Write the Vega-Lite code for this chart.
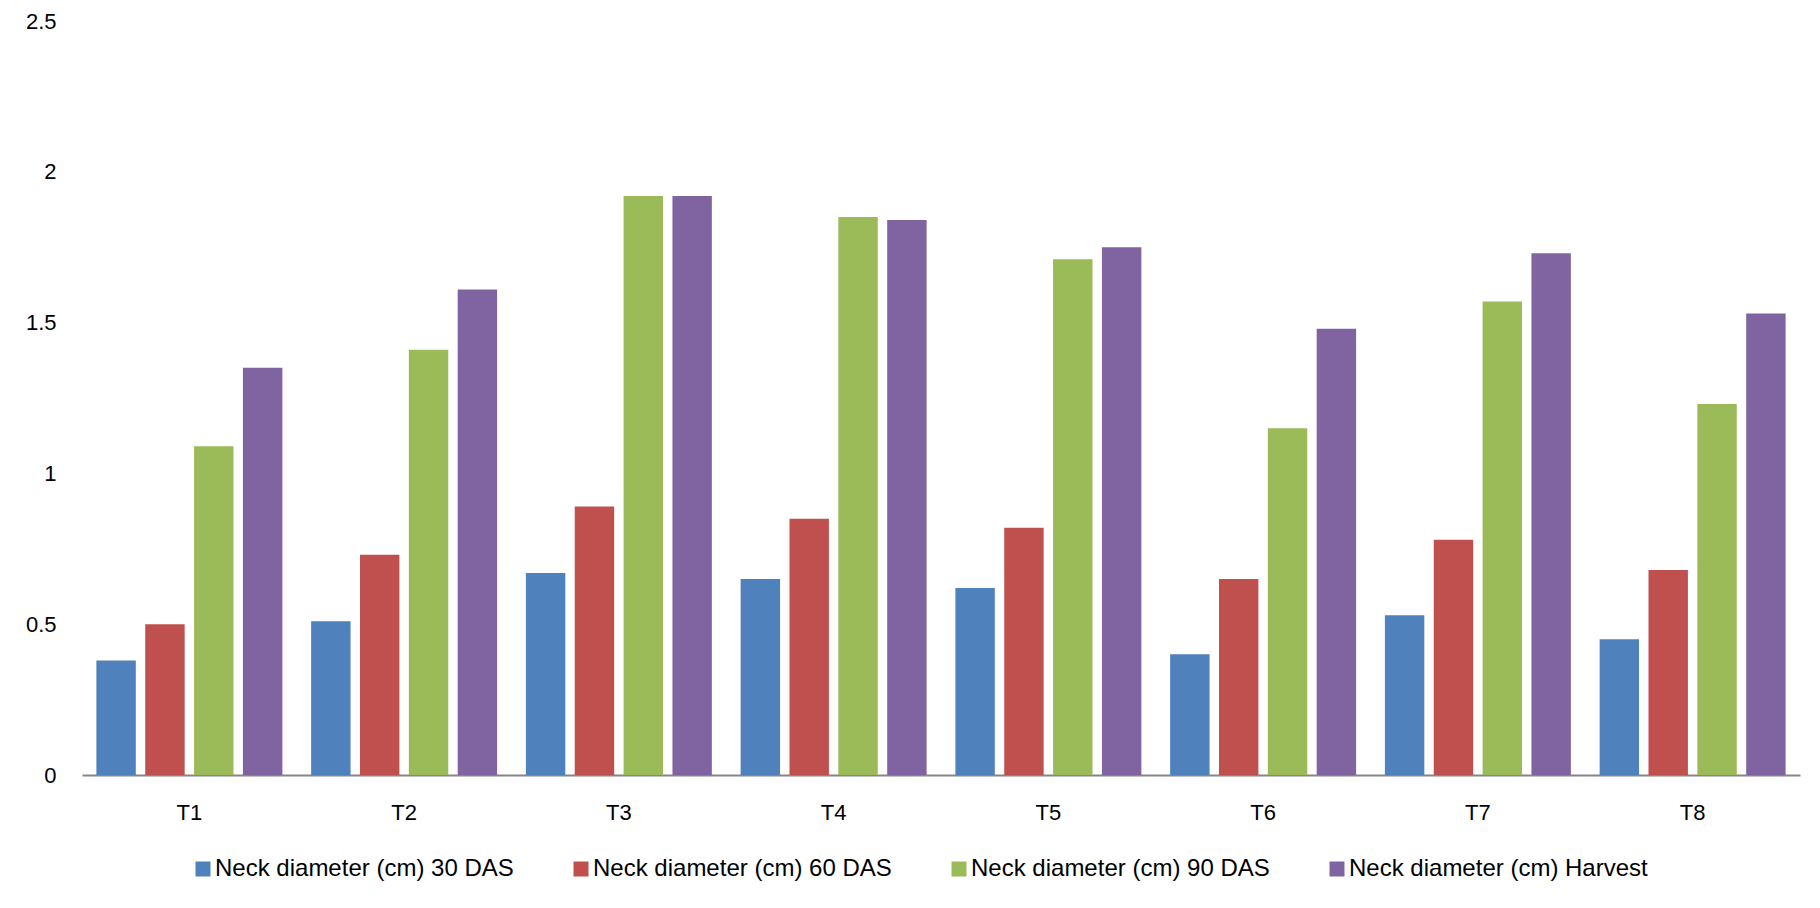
{
  "$schema": "https://vega.github.io/schema/vega-lite/v6.json",
  "width": 1718,
  "height": 754,
  "autosize": {"type": "none"},
  "padding": {"left": 82, "top": 21, "right": 20, "bottom": 133},
  "background": "white",
  "config": {
    "view": {"stroke": null},
    "font": "Liberation Sans"
  },
  "data": {
    "values": [
      {"t": "T1", "s": "Neck diameter (cm) 30 DAS", "v": 0.38},
      {"t": "T1", "s": "Neck diameter (cm) 60 DAS", "v": 0.50},
      {"t": "T1", "s": "Neck diameter (cm) 90 DAS", "v": 1.09},
      {"t": "T1", "s": "Neck diameter (cm) Harvest", "v": 1.35},
      {"t": "T2", "s": "Neck diameter (cm) 30 DAS", "v": 0.51},
      {"t": "T2", "s": "Neck diameter (cm) 60 DAS", "v": 0.73},
      {"t": "T2", "s": "Neck diameter (cm) 90 DAS", "v": 1.41},
      {"t": "T2", "s": "Neck diameter (cm) Harvest", "v": 1.61},
      {"t": "T3", "s": "Neck diameter (cm) 30 DAS", "v": 0.67},
      {"t": "T3", "s": "Neck diameter (cm) 60 DAS", "v": 0.89},
      {"t": "T3", "s": "Neck diameter (cm) 90 DAS", "v": 1.92},
      {"t": "T3", "s": "Neck diameter (cm) Harvest", "v": 1.92},
      {"t": "T4", "s": "Neck diameter (cm) 30 DAS", "v": 0.65},
      {"t": "T4", "s": "Neck diameter (cm) 60 DAS", "v": 0.85},
      {"t": "T4", "s": "Neck diameter (cm) 90 DAS", "v": 1.85},
      {"t": "T4", "s": "Neck diameter (cm) Harvest", "v": 1.84},
      {"t": "T5", "s": "Neck diameter (cm) 30 DAS", "v": 0.62},
      {"t": "T5", "s": "Neck diameter (cm) 60 DAS", "v": 0.82},
      {"t": "T5", "s": "Neck diameter (cm) 90 DAS", "v": 1.71},
      {"t": "T5", "s": "Neck diameter (cm) Harvest", "v": 1.75},
      {"t": "T6", "s": "Neck diameter (cm) 30 DAS", "v": 0.40},
      {"t": "T6", "s": "Neck diameter (cm) 60 DAS", "v": 0.65},
      {"t": "T6", "s": "Neck diameter (cm) 90 DAS", "v": 1.15},
      {"t": "T6", "s": "Neck diameter (cm) Harvest", "v": 1.48},
      {"t": "T7", "s": "Neck diameter (cm) 30 DAS", "v": 0.53},
      {"t": "T7", "s": "Neck diameter (cm) 60 DAS", "v": 0.78},
      {"t": "T7", "s": "Neck diameter (cm) 90 DAS", "v": 1.57},
      {"t": "T7", "s": "Neck diameter (cm) Harvest", "v": 1.73},
      {"t": "T8", "s": "Neck diameter (cm) 30 DAS", "v": 0.45},
      {"t": "T8", "s": "Neck diameter (cm) 60 DAS", "v": 0.68},
      {"t": "T8", "s": "Neck diameter (cm) 90 DAS", "v": 1.23},
      {"t": "T8", "s": "Neck diameter (cm) Harvest", "v": 1.53}
    ]
  },
  "mark": {"type": "bar"},
  "encoding": {
    "x": {
      "field": "t",
      "type": "nominal",
      "title": null,
      "scale": {"paddingInner": 0.134, "paddingOuter": 0.067},
      "axis": {
        "labelAngle": 0,
        "labelFontSize": 22,
        "labelColor": "#000000",
        "labelPadding": 27,
        "ticks": false,
        "domainColor": "#868686",
        "domainWidth": 2,
        "grid": false
      }
    },
    "xOffset": {
      "field": "s",
      "type": "nominal",
      "scale": {"paddingInner": 0.193, "paddingOuter": 0}
    },
    "y": {
      "field": "v",
      "type": "quantitative",
      "title": null,
      "scale": {"domain": [0, 2.5], "nice": false},
      "axis": {
        "values": [0, 0.5, 1, 1.5, 2, 2.5],
        "format": "~g",
        "labelFontSize": 22,
        "labelColor": "#000000",
        "labelPadding": 26,
        "ticks": false,
        "domain": false,
        "grid": false
      }
    },
    "color": {
      "field": "s",
      "type": "nominal",
      "title": null,
      "scale": {
        "domain": ["Neck diameter (cm) 30 DAS", "Neck diameter (cm) 60 DAS", "Neck diameter (cm) 90 DAS", "Neck diameter (cm) Harvest"],
        "range": ["#4F81BD", "#C0504D", "#9BBB59", "#8064A2"]
      },
      "legend": {
        "orient": "none",
        "direction": "horizontal",
        "legendX": 109,
        "legendY": 836,
        "symbolType": "square",
        "symbolSize": 225,
        "symbolStrokeWidth": 0,
        "symbolOpacity": 1,
        "labelFontSize": 24,
        "labelColor": "#000000",
        "labelOffset": 0,
        "columnPadding": 55,
        "labelLimit": 400
      }
    }
  }
}
